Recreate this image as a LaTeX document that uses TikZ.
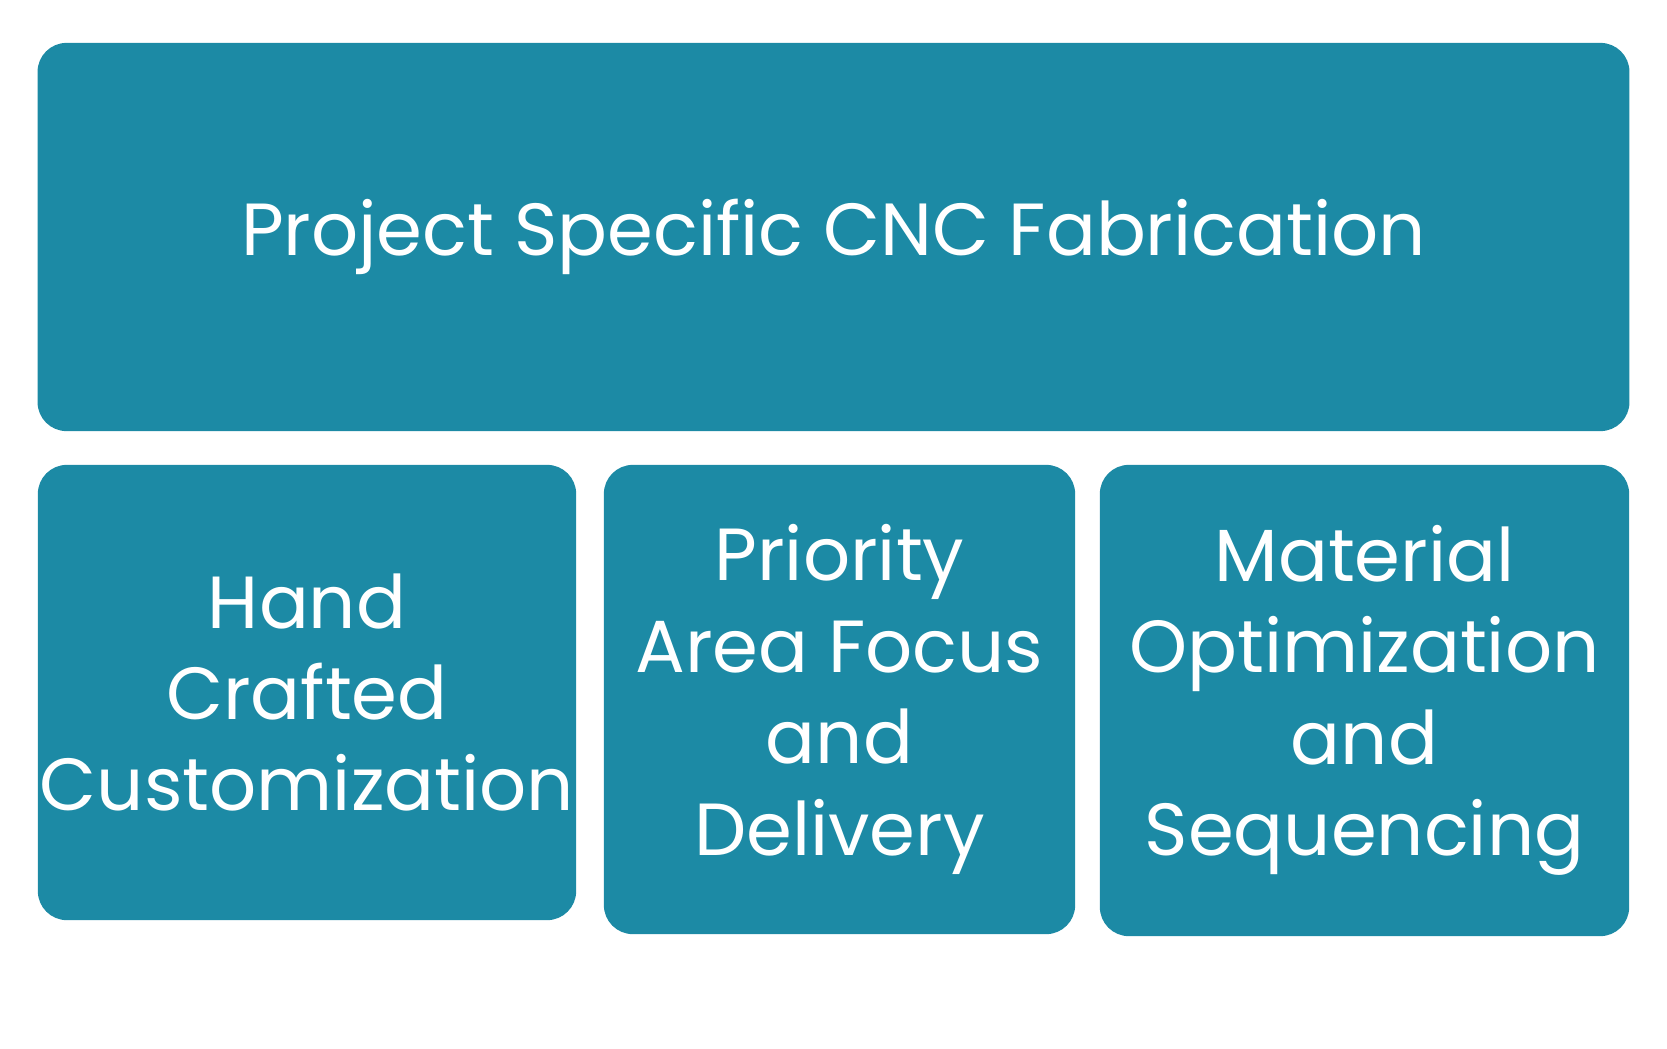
\documentclass[tikz,border=0pt]{standalone}
\usepackage{fontspec}
\setmainfont{Poppins}
\usepackage{xcolor}
\definecolor{tealbox}{HTML}{1C8AA5}

\begin{document}
\begin{tikzpicture}[x=0.01cm,y=-0.01cm,
    block/.style={fill=tealbox, rounded corners=0.29cm, text=white, align=center,
      font=\fontsize{21}{26}\selectfont, inner sep=0pt}]
\useasboundingbox (0,0) rectangle (1667,1048);
\node[block, minimum width=15.91cm, minimum height=3.88cm] (fab) at (833.5,237) {\raisebox{-0.35cm}{Project Specific CNC Fabrication}};
\node[block, minimum width=5.38cm, minimum height=4.55cm] (hand) at (307,692.5) {Hand\\Crafted\\Customization};
\node[block, minimum width=4.71cm, minimum height=4.69cm] (prio) at (839.5,699.5) {Priority\\Area Focus\\and\\Delivery};
\node[block, minimum width=5.29cm, minimum height=4.71cm] (mat) at (1364.5,700.5) {Material\\Optimization\\and\\Sequencing};
\end{tikzpicture}
\end{document}
